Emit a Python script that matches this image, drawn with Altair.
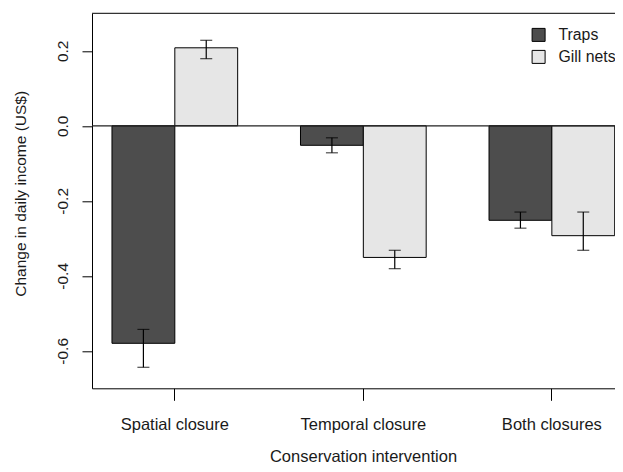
import altair as alt
import pandas as pd

groups = ["Spatial closure", "Temporal closure", "Both closures"]
series = ["Traps", "Gill nets"]
traps_mean = [-0.58, -0.052, -0.252]
traps_lo = [-0.644, -0.072, -0.273]
traps_hi = [-0.543, -0.032, -0.230]
gill_mean = [0.208, -0.351, -0.293]
gill_lo = [0.179, -0.381, -0.332]
gill_hi = [0.228, -0.332, -0.230]
y_ticks = [-0.6, -0.4, -0.2, 0.0, 0.2]
colors = ["#4D4D4D", "#E6E6E6"]

rows = []
for i, g in enumerate(groups):
    rows.append({"group": g, "series": "Traps", "mean": traps_mean[i], "lo": traps_lo[i], "hi": traps_hi[i]})
    rows.append({"group": g, "series": "Gill nets", "mean": gill_mean[i], "lo": gill_lo[i], "hi": gill_hi[i]})
df = pd.DataFrame(rows)

FONT = "Liberation Sans"
TXT = "#1a1a1a"
W, H = 523, 375

xscale = alt.Scale(paddingInner=1/3, paddingOuter=0.0538, align=0.985)
xaxis = alt.Axis(title="Conservation intervention", labelFontSize=16.5, titleFontSize=16.5,
                 labelFont=FONT, titleFont=FONT, labelColor=TXT, titleColor=TXT,
                 tickSize=12, labelPadding=29.5, labelBaseline="alphabetic",
                 titleBaseline="alphabetic", titleY=73.5, titleX=271, titleFontWeight="normal",
                 domainColor="black", tickColor="black", labelAngle=0)
yscale = alt.Scale(domain=[-0.7, 0.3], nice=False, zero=False)
yaxis = alt.Axis(title="Change in daily income (US$)", values=y_ticks, tickSize=10,
                 labelAngle=270, labelAlign="center", labelBaseline="alphabetic", labelPadding=15,
                 labelExpr="datum.value < 0 ? '-' + format(-datum.value, '.1f') : format(datum.value, '.1f')",
                 labelFontSize=15.5, titleFontSize=15.5, labelFont=FONT, titleFont=FONT,
                 labelColor=TXT, titleColor=TXT, titleAngle=270, titleAlign="center",
                 titleBaseline="alphabetic", titleX=-67, titleY=180, titleFontWeight="normal",
                 domainColor="black", tickColor="black", grid=False)
xoff = alt.XOffset("series:N", sort=series, scale=alt.Scale(paddingInner=0, paddingOuter=0))

base = alt.Chart(df)

bars = base.mark_bar(stroke="black", strokeWidth=1).encode(
    x=alt.X("group:N", sort=groups, scale=xscale, axis=xaxis),
    xOffset=xoff,
    y=alt.Y("mean:Q", scale=yscale, axis=yaxis),
    y2=alt.datum(0),
    fill=alt.Fill("series:N", sort=series, scale=alt.Scale(domain=series, range=colors),
                  legend=alt.Legend(orient="none", legendX=438.7, legendY=13.7, title=None,
                                    symbolType="square", symbolSize=169, symbolStrokeColor="black",
                                    symbolStrokeWidth=1, labelFontSize=15.8, labelFont=FONT,
                                    labelColor=TXT, labelOffset=12, rowPadding=4, padding=0)),
)

err = base.mark_rule(color="black", strokeWidth=1.2).encode(
    x=alt.X("group:N", sort=groups),
    xOffset=xoff,
    y=alt.Y("lo:Q"),
    y2="hi:Q",
)
cap_lo = base.mark_tick(color="black", thickness=1.2, size=12, orient="horizontal").encode(
    x=alt.X("group:N", sort=groups), xOffset=xoff, y="lo:Q")
cap_hi = base.mark_tick(color="black", thickness=1.2, size=12, orient="horizontal").encode(
    x=alt.X("group:N", sort=groups), xOffset=xoff, y="hi:Q")

zero = alt.Chart(pd.DataFrame({"v": [0.0]})).mark_rule(color="#222", strokeWidth=1.2).encode(y="v:Q")
top = alt.Chart(pd.DataFrame({"v": [0.3]})).mark_rule(color="#333", strokeWidth=1.2).encode(y="v:Q")

chart = alt.layer(bars, zero, top, err, cap_lo, cap_hi).properties(
    width=W, height=H,
    autosize=alt.AutoSizeParams(type="none"),
    padding={"left": 84, "top": 5.3, "right": 0, "bottom": 75.7},
    background="white",
).configure_view(stroke=None)

chart.save("out.html", embed_options={"renderer": "svg", "actions": False})
